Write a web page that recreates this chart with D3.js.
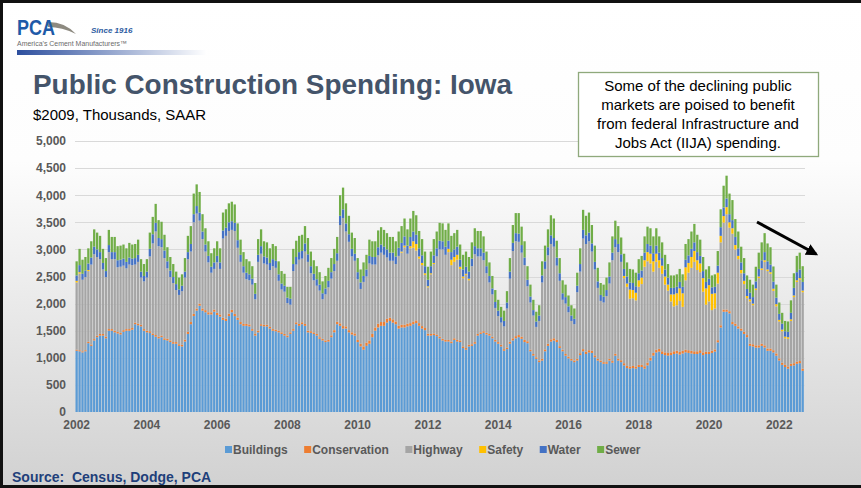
<!DOCTYPE html>
<html>
<head>
<meta charset="utf-8">
<script src="https://cdn.jsdelivr.net/npm/d3@7"></script>
<style>
  body { margin: 0; background: #fff; }
  svg { display: block; font-family: Arial, "Liberation Sans", sans-serif; }
</style>
</head>
<body>
<div id="chart"></div>
<script>
// monthly values, Jan 2002 - Sep 2022 ($2009, thousands, SAAR)
const buildings = [
  1130,1120,1100,1120,1270,1220,1320,1380,1410,1410,1360,1500,
  1500,1470,1450,1430,1480,1500,1500,1520,1620,1600,1580,1500,
  1470,1460,1420,1390,1360,1380,1330,1320,1290,1260,1260,1220,
  1210,1300,1440,1620,1770,1870,1960,1870,1840,1800,1800,1850,
  1790,1760,1700,1680,1770,1840,1770,1700,1620,1590,1590,1580,
  1500,1410,1470,1590,1580,1580,1540,1500,1490,1470,1440,1410,
  1380,1440,1500,1620,1590,1620,1590,1470,1460,1440,1410,1350,
  1320,1290,1300,1380,1470,1620,1590,1540,1540,1470,1430,1410,
  1290,1210,1150,1220,1260,1380,1500,1560,1590,1590,1650,1680,
  1650,1620,1540,1560,1560,1580,1590,1620,1640,1590,1540,1510,
  1410,1410,1420,1400,1360,1320,1300,1300,1270,1330,1300,1290,
  1180,1150,1210,1220,1260,1410,1440,1460,1430,1410,1360,1300,
  1260,1210,1130,1160,1260,1320,1360,1380,1350,1290,1270,1120,
  1040,980,920,950,1120,1220,1300,1320,1290,1180,1120,1040,
  990,950,920,950,1050,1120,1070,1100,1090,1010,950,920,
  890,890,950,910,1040,950,920,860,810,800,810,800,
  830,830,800,860,950,1040,1100,1115,1070,1050,1040,1050,
  1070,1080,1060,1080,1100,1090,1080,1070,1070,1090,1050,1070,
  1070,1090,1115,1285,1560,1850,1850,1820,1620,1590,1540,1500,
  1440,1380,1220,1210,1190,1190,1220,1190,1130,1130,1100,1040,
  950,870,830,800,850,860,890,900,760
];
const conservation = [
  20,20,20,20,25,25,25,30,30,30,30,30,
  30,30,30,30,30,30,30,30,30,30,30,30,
  30,30,30,30,30,30,30,30,30,30,30,30,
  30,35,40,40,40,40,40,40,40,40,40,40,
  40,40,40,40,45,45,40,40,40,35,35,35,
  30,30,30,30,30,30,30,30,30,30,30,30,
  30,30,30,35,35,35,35,30,30,30,30,30,
  30,30,30,35,40,45,45,45,40,40,40,40,
  40,50,60,60,60,60,60,70,70,70,70,60,
  60,50,50,50,50,50,50,50,50,50,45,40,
  35,30,30,30,30,30,30,30,30,30,30,30,
  30,30,30,30,30,30,30,30,30,30,30,30,
  30,30,30,30,35,40,40,40,40,40,35,30,
  30,30,30,30,35,40,40,40,40,35,30,30,
  30,30,30,30,35,40,40,40,40,35,30,30,
  30,30,30,30,35,35,35,40,40,40,40,40,
  40,40,45,50,50,50,50,50,50,50,50,50,
  50,50,50,50,50,50,50,50,50,50,50,40,
  40,40,40,40,40,40,40,40,40,40,40,40,
  40,40,40,40,40,40,40,40,40,40,40,40,
  40,40,40,40,40,40,40,40,40
];
const highway = [
  1240,1415,1320,1350,1305,1475,1565,1450,1380,1190,1100,1420,
  1290,1320,1190,1220,1190,1120,1190,1160,1070,1140,870,880,
  980,1380,1660,1910,1670,1630,1480,1300,1170,1090,960,910,
  990,1145,1340,1300,1690,1750,1530,1280,1080,920,730,750,
  930,840,1460,1530,1525,1475,1530,1290,1110,945,825,815,
  820,640,1270,1300,1130,1110,1050,1160,1140,920,790,780,
  600,510,1070,1065,1185,1175,1335,1270,1070,960,890,860,
  730,850,970,1045,1090,1125,1815,1995,1750,1630,1400,1340,
  1120,1010,1190,1220,1420,1280,1160,1260,1280,1240,1130,1050,
  1080,1060,1290,1330,1430,1290,1380,1360,1290,1190,1125,980,
  855,1100,1280,1440,1610,1650,1570,1620,1410,1410,1480,1320,
  1260,1350,1190,1440,1620,1430,1400,1310,1100,950,780,590,
  480,410,420,720,1165,1610,1750,1720,1550,1380,1015,870,
  710,560,730,1410,1485,1630,1760,1690,1370,1205,920,930,
  820,700,670,1230,1505,2040,1990,2010,1830,1585,1310,1100,
  1100,1220,1390,1860,1965,1965,1815,1570,1460,1250,1250,1220,
  1440,1490,1835,1870,1740,1500,1620,1495,1430,1250,1150,940,
  830,840,940,810,1280,1430,1530,1650,1500,1440,1120,870,
  930,750,755,1045,1530,1605,1760,1540,1630,1370,1240,1020,
  880,680,780,720,1020,1240,1360,1540,1430,1380,1095,870,
  680,580,490,510,790,1220,1470,1500,1410
];
const safety = [
  30,25,0,0,20,0,0,0,0,0,0,0,
  0,0,0,0,0,0,0,0,0,0,0,0,
  0,0,0,0,0,0,0,0,0,0,0,0,
  0,0,0,0,0,0,0,0,0,0,0,0,
  0,0,0,0,0,0,0,0,0,0,0,0,
  0,0,0,0,0,0,0,0,0,0,0,0,
  0,0,0,0,0,0,0,0,0,0,0,0,
  0,0,0,0,0,0,0,0,0,0,0,0,
  0,0,0,0,0,0,0,0,0,0,0,0,
  0,0,0,20,30,0,40,120,120,40,40,30,
  20,20,20,0,0,0,0,60,100,90,90,40,
  30,20,30,0,0,0,0,0,0,0,0,0,
  0,0,0,0,0,0,0,0,0,0,0,0,
  0,0,0,0,0,0,0,0,0,0,0,0,
  0,0,0,0,0,0,0,0,0,0,0,0,
  0,0,0,0,0,0,0,40,60,170,150,140,
  120,120,120,170,180,190,150,140,150,150,110,130,
  220,220,230,250,240,180,200,200,180,160,250,300,
  300,300,280,200,120,120,130,100,100,80,60,60,
  60,40,40,30,30,30,30,30,30,30,40,40,
  30,30,30,30,30,30,30,30,30
];
const water = [
  100,130,110,120,120,130,140,140,130,120,110,130,
  130,130,130,130,130,120,130,120,120,130,110,100,
  110,140,170,160,150,150,140,130,120,110,110,100,
  100,110,130,140,150,140,150,140,130,120,110,120,
  120,120,150,150,160,160,150,140,130,120,120,110,
  110,100,130,140,130,130,130,130,130,120,110,110,
  100,110,130,140,140,140,150,140,130,120,120,110,
  110,110,120,120,130,140,170,160,150,140,140,130,
  130,120,110,130,140,140,140,150,150,150,150,150,
  150,140,150,160,170,150,170,180,170,150,140,130,
  120,130,140,150,160,150,150,150,140,140,150,130,
  130,130,130,140,150,150,150,140,130,120,110,110,
  100,100,100,110,130,150,150,150,140,140,120,110,
  100,100,100,130,140,150,160,160,150,140,120,120,
  110,100,100,120,140,160,160,160,150,140,120,110,
  110,110,130,140,150,150,140,130,130,130,130,120,
  130,130,140,150,150,150,150,140,140,130,130,120,
  120,120,120,120,140,140,150,160,150,140,130,120,
  120,120,120,130,160,160,160,150,150,150,140,140,
  140,130,120,120,130,140,150,150,150,140,130,120,
  110,110,100,100,120,140,150,160,160
];
const sewer = [
  260,300,260,250,280,300,320,310,300,260,240,280,
  280,280,260,260,260,250,270,260,260,280,230,220,
  230,300,320,350,330,320,290,260,250,240,230,220,
  210,250,300,330,380,400,380,320,300,270,250,260,
  270,260,330,340,350,360,340,310,280,260,250,240,
  230,200,290,310,280,280,270,280,270,240,230,220,
  200,220,280,300,300,300,320,300,270,250,240,230,
  220,230,240,260,280,300,380,400,370,340,300,290,
  260,240,250,270,300,290,290,310,320,310,300,290,
  290,280,300,310,330,300,340,380,360,320,300,270,
  240,270,300,310,330,330,310,320,300,300,310,280,
  270,280,270,300,330,320,320,300,270,250,230,220,
  200,190,190,210,250,330,370,380,340,300,250,220,
  190,180,190,260,290,330,370,360,310,280,240,230,
  200,190,190,240,290,370,360,370,340,300,250,220,
  220,230,260,300,340,330,310,280,260,250,250,250,
  260,270,300,320,320,310,320,300,290,270,250,230,
  230,230,240,230,290,300,320,340,320,300,260,230,
  230,220,230,270,330,400,420,380,370,330,310,290,
  280,250,240,230,270,300,330,350,330,320,280,240,
  210,200,190,190,230,270,300,310,290
];

const seriesNames = ["Buildings", "Conservation", "Highway", "Safety", "Water", "Sewer"];
const seriesColors = ["#5B9BD5", "#ED7D31", "#A5A5A5", "#FFC000", "#4472C4", "#70AD47"];
const yearLabels = ["2002", "2004", "2006", "2008", "2010", "2012", "2014", "2016", "2018", "2020", "2022"];
const yTicks = [0, 500, 1000, 1500, 2000, 2500, 3000, 3500, 4000, 4500, 5000];
const noteLines = ["Some of the declining public", "markets are poised to benefit",
  "from federal Infrastructure and", "Jobs Act (IIJA) spending."];

function drawChart() {
    const width = 861, height = 488;
    const svg = d3.select("#chart").append("svg")
        .attr("width", width)
        .attr("height", height);

    // slide background
    const defs = svg.append("defs");
    const bg = defs.append("linearGradient").attr("id", "bg")
        .attr("x1", 0).attr("y1", 0).attr("x2", 0).attr("y2", 1);
    bg.append("stop").attr("offset", "0%").attr("stop-color", "#ffffff");
    bg.append("stop").attr("offset", "33%").attr("stop-color", "#fdfdfd");
    bg.append("stop").attr("offset", "100%").attr("stop-color", "#d1d1d1");
    const bar = defs.append("linearGradient").attr("id", "logobar");
    bar.append("stop").attr("offset", "0%").attr("stop-color", "#2d4f9e");
    bar.append("stop").attr("offset", "100%").attr("stop-color", "#ffffff");
    defs.append("marker").attr("id", "arrowhead")
        .attr("viewBox", "0 0 10 10").attr("refX", 8).attr("refY", 5)
        .attr("markerWidth", 4).attr("markerHeight", 4).attr("orient", "auto")
        .append("path").attr("d", "M0,0 L10,5 L0,10 z").attr("fill", "#000");

    svg.append("rect").attr("width", width).attr("height", height).attr("fill", "url(#bg)");

    // logo
    svg.append("path").attr("d", "M46,22 Q64,21 76,34 Q62,27 48,27 z").attr("fill", "#8d8a80");
    svg.append("text").attr("x", 17).attr("y", 35)
        .style("font-size", "22px").style("font-weight", "bold")
        .attr("textLength", 38).attr("lengthAdjust", "spacingAndGlyphs")
        .attr("fill", "#1e5aa8").text("PCA");
    svg.append("text").attr("x", 91).attr("y", 33)
        .style("font-size", "8px").style("font-style", "italic").style("font-weight", "bold")
        .attr("fill", "#2c5aa0").text("Since 1916");
    svg.append("text").attr("x", 17).attr("y", 46)
        .style("font-size", "7.5px").attr("fill", "#6b6b6b")
        .attr("textLength", 110).attr("lengthAdjust", "spacingAndGlyphs")
        .text("America’s Cement Manufacturers™");
    svg.append("rect").attr("x", 17).attr("y", 50).attr("width", 190).attr("height", 5)
        .attr("fill", "url(#logobar)");

    // titles
    svg.append("text").attr("x", 33).attr("y", 94)
        .style("font-size", "28px").style("font-weight", "bold")
        .attr("textLength", 479).attr("lengthAdjust", "spacingAndGlyphs")
        .attr("fill", "#44546A").text("Public Construction Spending: Iowa");
    svg.append("text").attr("x", 33).attr("y", 120)
        .style("font-size", "15px").attr("fill", "#000")
        .text("$2009, Thousands, SAAR");

    // scales
    const months = d3.range(buildings.length);
    const xScale = d3.scaleBand()
        .domain(months)
        .range([75.5, 75.5 + 2.925 * months.length])
        .paddingInner(0.22);
    const yScale = d3.scaleLinear()
        .domain([0, 5000])
        .range([412, 141]);

    // gridlines
    svg.append("g").selectAll("line")
        .data(yTicks.filter(d => d > 0))
        .enter().append("line")
        .attr("x1", 75).attr("x2", 805)
        .attr("y1", d => Math.round(yScale(d)) + 0.5)
        .attr("y2", d => Math.round(yScale(d)) + 0.5)
        .attr("stroke", "#d9d9d9").attr("stroke-width", 1);

    // stacked data
    const rows = months.map(i => ({
        Buildings: buildings[i], Conservation: conservation[i], Highway: highway[i],
        Safety: safety[i], Water: water[i], Sewer: sewer[i], idx: i
    }));
    const stacked = d3.stack().keys(seriesNames)(rows);

    const groups = svg.selectAll(".gbars")
        .data(stacked)
        .enter().append("g")
        .attr("class", "gbars")
        .attr("fill", (d, i) => seriesColors[i]);

    groups.selectAll("rect")
        .data(d => d)
        .enter().append("rect")
        .attr("x", d => xScale(d.data.idx))
        .attr("y", d => yScale(d[1]))
        .attr("height", d => Math.max(0, yScale(d[0]) - yScale(d[1])))
        .attr("width", xScale.bandwidth());

    // axes
    const yAxis = d3.axisLeft(yScale).tickValues(yTicks).tickSize(0).tickPadding(0)
        .tickFormat(d3.format(","));
    svg.append("g").attr("transform", "translate(66,0)").call(yAxis)
        .call(g => g.select(".domain").remove())
        .selectAll("text")
        .style("font-size", "12px").style("font-weight", "bold")
        .style("font-family", "Arial, 'Liberation Sans', sans-serif")
        .attr("fill", "#595959");

    const tickIdx = yearLabels.map(y => (+y - 2002) * 12);
    const xAxis = d3.axisBottom(xScale).tickValues(tickIdx).tickSize(0).tickPadding(0)
        .tickFormat((d, i) => yearLabels[i]);
    svg.append("g").attr("transform", "translate(0,420)").call(xAxis)
        .call(g => g.select(".domain").remove())
        .selectAll("text")
        .style("font-size", "12px").style("font-weight", "bold")
        .style("font-family", "Arial, 'Liberation Sans', sans-serif")
        .attr("fill", "#595959");

    // legend
    const legend = svg.append("g").attr("transform", "translate(0,450)");
    let lx = 225;
    seriesNames.forEach((name, i) => {
        legend.append("rect").attr("x", lx).attr("y", -4).attr("width", 7).attr("height", 7)
            .attr("fill", seriesColors[i]);
        const t = legend.append("text").attr("x", lx + 8).attr("y", 0).attr("dy", "0.35em")
            .style("font-size", "12px").style("font-weight", "bold")
            .attr("fill", "#595959").text(name);
        lx += 8 + t.node().getComputedTextLength() + 16.5;
    });

    // annotation box
    svg.append("rect").attr("x", 578.5).attr("y", 72.5).attr("width", 240).attr("height", 84)
        .attr("fill", "#ffffff").attr("stroke", "#8fa97c").attr("stroke-width", 1.3);
    svg.append("g").selectAll("text")
        .data(noteLines)
        .enter().append("text")
        .attr("x", 698).attr("y", (d, i) => 91 + i * 19)
        .attr("text-anchor", "middle")
        .style("font-size", "15px").attr("fill", "#000")
        .text(d => d);

    // arrow
    svg.append("line").attr("x1", 757).attr("y1", 222).attr("x2", 816).attr("y2", 254)
        .attr("stroke", "#000").attr("stroke-width", 3)
        .attr("marker-end", "url(#arrowhead)");

    // source
    svg.append("text").attr("x", 12).attr("y", 482)
        .style("font-size", "14px").style("font-weight", "bold")
        .attr("fill", "#1f3f7a").attr("xml:space", "preserve")
        .text("Source:  Census, Dodge, PCA");

    // slide frame
    svg.append("path").attr("d", "M861,1.5 H1.5 V486.5 H861")
        .attr("fill", "none").attr("stroke", "#111").attr("stroke-width", 3);
}

drawChart();
</script>
</body>
</html>
